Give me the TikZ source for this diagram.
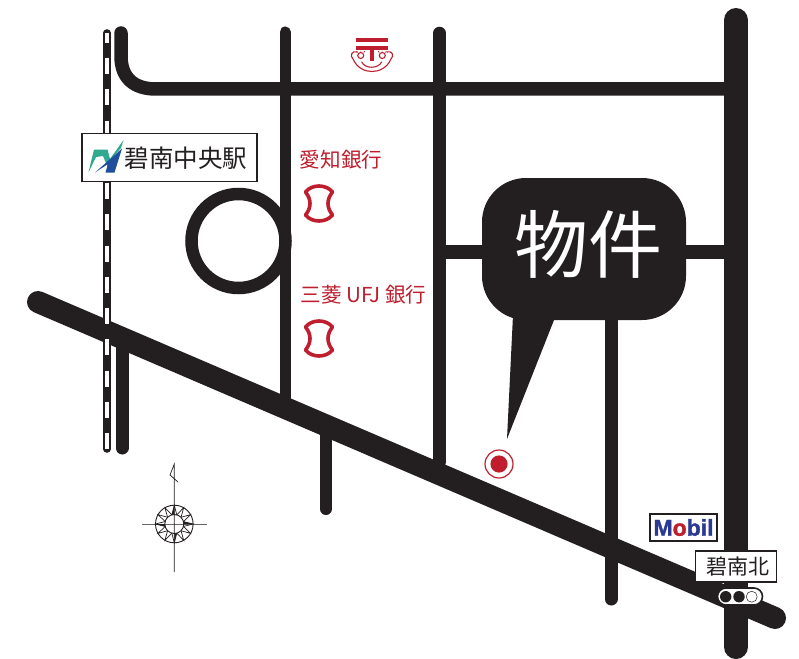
\documentclass[tikz,border=0pt]{standalone}
\usepackage{fontspec}
\setmainfont{Liberation Sans}[BoldFeatures={FakeBold=1.3}]
\newfontfamily\cjk{Noto Sans CJK JP}
\definecolor{roadc}{HTML}{231F20}
\definecolor{bankred}{HTML}{BE1E2D}
\definecolor{teal1}{HTML}{2FA98F}
\definecolor{blue1}{HTML}{1F4E9C}
\definecolor{mobilblue}{HTML}{2B3990}
\tikzset{
 x=1pt,y=-1pt,
 road/.style={draw=roadc,line cap=round,line join=round},
 bankmark/.style={draw=bankred,line width=3.6pt,line join=round,fill=white},
 sign/.style={draw=roadc,fill=white,line width=1.6pt},
 lbl/.style={inner sep=0pt,outer sep=0pt,anchor=center},
 redtext/.style={lbl,text=bankred,font=\cjk\fontsize{20.6}{21}\selectfont},
 postline/.style={bankred,line width=1.1pt,line cap=round},
}
\newcommand{\bankshape}[2]{%
 \draw[bankmark,xshift=#1pt,yshift=-#2pt]
  (-13.5,-11.5) .. controls (-7,-19.5) and (7,-19.5) .. (13.5,-11.5)
  .. controls (7.5,-4) and (7.5,4) .. (13.5,11.5)
  .. controls (7,19.5) and (-7,19.5) .. (-13.5,11.5)
  .. controls (-7.5,4) and (-7.5,-4) .. (-13.5,-11.5) -- cycle;}
\begin{document}
\begin{tikzpicture}
\useasboundingbox (0,0) rectangle (799,658);
% roads
\draw[road,line width=13.5pt] (121,33) -- (121,56) .. controls (121,78) and (134,89) .. (156,89) -- (736,89);
\draw[road,line width=11pt] (285,32) -- (285,400);
\draw[road,line width=12.5pt] (439.5,33) -- (439.5,462);
\draw[road,line width=13pt] (122,340) -- (122,448);
\draw[road,line width=12pt] (326,430) -- (326,509);
\draw[road,line width=13pt] (611,310) -- (611,599);
\draw[road,line width=14pt] (445,252) -- (736,252);
\draw[road,line width=24pt] (736,20) -- (736,647);
\draw[road,line width=22pt] (38,302) -- (775,618);
% railway
\draw[road,line width=7.6pt] (106.8,33) -- (106.8,449);
\draw[white,line width=3.8pt,dash pattern=on 16pt off 15.25pt,dash phase=6.25pt] (106.8,33) -- (106.8,449);
% roundabout
\draw[roadc,line width=12.5pt] (238.5,241) circle[radius=47];
% property callout
\fill[roadc,rounded corners=44pt] (482,178) rectangle (686,320);
\fill[roadc] (513,315) -- (507,439) -- (556,315) -- cycle;
\node[lbl,text=white,font=\cjk\fontsize{74}{74}\selectfont] (prop) at (588,244) {物件};
% target
\draw[bankred,line width=1.2pt] (499,464) circle[radius=14];
\fill[bankred] (499,464) circle[radius=8.6];
% station sign
\node[sign,minimum width=175pt,minimum height=48pt,inner sep=0pt] (stn) at (169.5,157.5) {};
\node[lbl,text=roadc,font=\cjk\fontsize{24.5}{25}\selectfont] (stnname) at (186,158) {碧南中央駅};
\fill[teal1] (88.5,172.5) -- (94,149.5) -- (107.5,149.5) -- (110,159) -- (123.5,140) -- (121,148) -- (111,159) -- (108,168) -- (103,156) -- (96,157) -- cycle;
\fill[blue1] (95,172.5) -- (108,161) -- (122,148.5) -- (114.5,172.5) -- (105.5,172.5) -- (108,164) -- cycle;
% post mark
\fill[bankred] (356,38) rectangle (388,42.3);
\fill[bankred] (356,46) rectangle (388,50);
\fill[bankred] (370,50) rectangle (374,61);
\draw[postline] (357,52) .. controls (352,50) and (349.5,56) .. (353,59)
  .. controls (357,68) and (365,71.5) .. (372,71.5)
  .. controls (379,71.5) and (387,68) .. (391,59)
  .. controls (394.5,56) and (392,50) .. (387,52);
\draw[postline] (361.7,62) .. controls (365,69) and (378,69) .. (381.7,62);
\draw[postline] (360.7,55.5) circle[radius=3];
\draw[postline] (382.3,55.5) circle[radius=3];
\foreach \cx in {360.7,382.3}{
 \draw[bankred,line width=0.7pt] (\cx-3,52.5) -- (\cx-4.2,51.2) (\cx,51.5) -- (\cx,50.8) (\cx+3,52.5) -- (\cx+4.2,51.2);
}
% banks
\node[redtext] (aichi) at (341,160) {愛知銀行};
\bankshape{319}{203.5}
\node[redtext] (ufj) at (363.5,295) {三菱 UFJ 銀行};
\bankshape{319}{338.5}
% compass
\draw[gray!80!black,line width=1pt] (142,524) -- (207,524);
\draw[roadc,line width=0.7pt] (174.3,572) -- (174.3,464) -- (170,475) -- (178,482);
\draw[roadc,line width=0.9pt] (174.3,524) circle[radius=18.8] circle[radius=9.5];
\foreach \a in {0,30,...,330}{
 \draw[roadc,line width=0.7pt] ({174.3+9.5*cos(\a-15)},{524+9.5*sin(\a-15)}) -- ({174.3+18.8*cos(\a)},{524+18.8*sin(\a)}) -- ({174.3+9.5*cos(\a+15)},{524+9.5*sin(\a+15)});
}
\foreach \a in {0,90,180,270}{
 \fill[roadc] ({174.3+9.5*cos(\a-15)},{524+9.5*sin(\a-15)}) -- ({174.3+18.8*cos(\a)},{524+18.8*sin(\a)}) -- ({174.3+9.5*cos(\a)},{524+9.5*sin(\a)}) -- cycle;
}
% mobil
\node[draw=roadc,fill=white,line width=1.6pt,minimum width=67pt,minimum height=27pt,inner sep=0pt] (mobilbox) at (683.5,527.5) {};
\node[lbl,font=\bfseries\fontsize{23}{23}\selectfont,text=mobilblue] (mobil) at (683.5,527.5) {M\textcolor{bankred}{o}bil};
% signal
\node[sign,minimum width=81pt,minimum height=31pt,inner sep=0pt] (kita) at (736,566.5) {};
\node[lbl,text=roadc,font=\cjk\fontsize{21}{21}\selectfont] (kitaname) at (738,567) {碧南北};
\draw[draw=roadc,fill=white,line width=1.6pt,rounded corners=8.5pt] (717.5,588) rectangle (762.5,605);
\fill[roadc] (725.7,596.7) circle[radius=5.7] (739,596.7) circle[radius=5.7];
\draw[roadc,line width=0.5pt] (751.7,596.7) circle[radius=5.5];
\end{tikzpicture}
\end{document}
